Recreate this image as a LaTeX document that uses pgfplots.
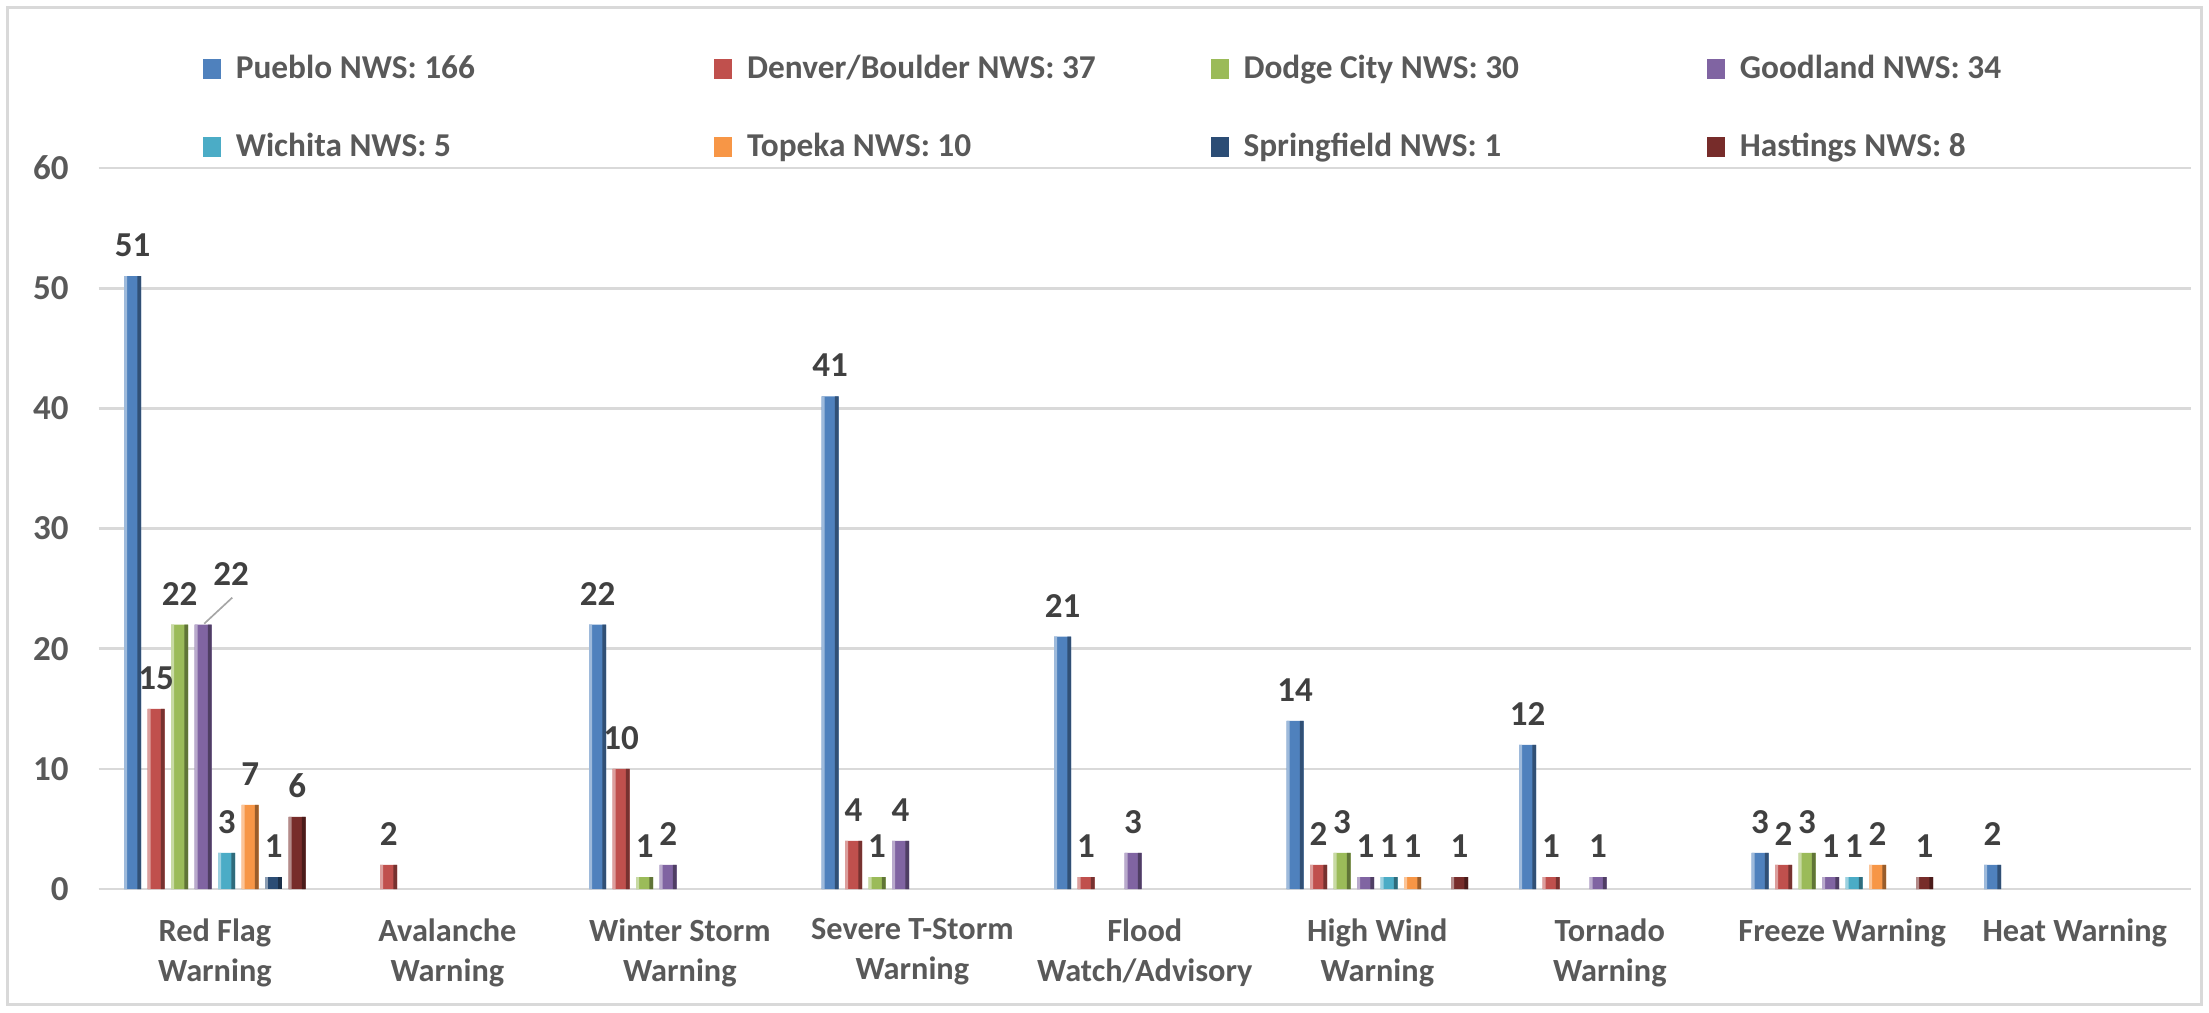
\documentclass[border=0pt]{standalone}
\usepackage{pgfplots}
\usepackage{pgfplotstable}
\pgfplotsset{compat=1.18}
\usepackage{fontspec}
\setmainfont{Carlito}

\definecolor{cPueblo}{HTML}{4F81BD}
\definecolor{cDenver}{HTML}{C0504D}
\definecolor{cDodge}{HTML}{9BBB59}
\definecolor{cGood}{HTML}{8064A2}
\definecolor{cWich}{HTML}{4BACC6}
\definecolor{cTop}{HTML}{F79646}
\definecolor{cSpring}{HTML}{2C4D75}
\definecolor{cHast}{HTML}{772C2A}
\definecolor{txt}{HTML}{595959}
\definecolor{lbl}{HTML}{404040}
\definecolor{gridc}{HTML}{D9D9D9}

% x: 0 Red Flag, 1 Avalanche, 2 Winter Storm, 3 Severe T-Storm, 4 Flood,
%    5 High Wind, 6 Tornado, 7 Freeze, 8 Heat
\pgfplotstableread{
x y
0 51
2 22
3 41
4 21
5 14
6 12
7 3
8 2
}\pueblo
\pgfplotstableread{
x y
0 15
1 2
2 10
3 4
4 1
5 2
6 1
7 2
}\denver
\pgfplotstableread{
x y
0 22
2 1
3 1
5 3
7 3
}\dodge
\pgfplotstableread{
x y  dx  dy
0 22 8.4 6
2 2  0   0
3 4  0   0
4 3  0   0
5 1  0   0
6 1  0   0
7 1  0   0
}\goodland
\pgfplotstableread{
x y
0 3
5 1
7 1
}\wichita
\pgfplotstableread{
x y
0 7
5 1
7 2
}\topeka
\pgfplotstableread{
x y
0 1
}\springfield
\pgfplotstableread{
x y
0 6
5 1
7 1
}\hastings

% bevel edges: #1 table, #2 colour, #3 right-stripe shift, #4 left-stripe shift
\newcommand{\edges}[4]{%
  \addplot[forget plot, fill=#2!62!black, draw=none, bar width=1.1pt, bar shift=#3pt] table[x=x,y=y] {#1};
  \addplot[forget plot, fill=#2!55!white, draw=none, bar width=0.9pt, bar shift=#4pt] table[x=x,y=y] {#1};
}
\newcommand{\legtext}[2][139.5pt]{\makebox[#1][l]{\hspace{2.5pt}#2}}

\begin{document}
\begin{tikzpicture}
\useasboundingbox (0,0) rectangle (662.7pt,303.6pt);
\draw[gridc, line width=0.9pt] (2.2pt,2.2pt) rectangle (660.5pt,301.4pt);
\begin{axis}[
    at={(29.6pt,36.9pt)}, anchor=south west,
    scale only axis,
    width=627.7pt, height=216.3pt,
    ybar,
    bar width=5.1pt,
    ymin=0, ymax=60,
    ytick={0,10,...,60},
    xmin=-0.5, xmax=8.5,
    xtick={0,...,8},
    xticklabels={Red Flag\\Warning, Avalanche\\Warning, Winter Storm\\Warning, Severe T-Storm\\Warning, Flood\\Watch/Advisory, High Wind\\Warning, Tornado\\Warning, Freeze Warning, Heat Warning},
    xticklabel style={align=center, font=\bfseries\fontsize{9.7}{12}\selectfont, text=txt, yshift=-5.3pt},
    yticklabel style={font=\bfseries\fontsize{10.5}{12}\selectfont, text=txt, xshift=-5.5pt},
    /pgf/number format/assume math mode=true,
    major tick length=0pt,
    ymajorgrids,
    grid style={gridc, line width=0.8pt},
    axis x line*=bottom,
    axis y line*=left,
    x axis line style={gridc, line width=0.8pt},
    y axis line style={draw=none},
    lab/.style={nodes near coords,
      every node near coord/.append style={font=\bfseries\fontsize{10.5}{12}\selectfont, text=lbl, yshift=2.3pt}},
    legend columns=4,
    legend cell align=left,
    legend style={draw=none, fill=none, at={(0.0447,1.083)}, anchor=west,
        font=\bfseries\fontsize{10}{12}\selectfont, text=txt,
        /tikz/every even column/.append style={column sep=0pt},
        row sep=10.8pt},
    legend image code/.code={\fill[#1] (0pt,-3pt) rectangle (5.4pt,3pt);},
]
\addplot[fill=cPueblo, draw=none, bar shift=-24.675pt, lab] table[x=x,y=y] {\pueblo};
\addlegendentry{\legtext[144pt]{Pueblo NWS: 166}}
\addplot[fill=cDenver, draw=none, bar shift=-17.625pt, lab] table[x=x,y=y] {\denver};
\addlegendentry{\legtext{Denver/Boulder NWS: 37}}
\addplot[fill=cDodge, draw=none, bar shift=-10.575pt, lab] table[x=x,y=y] {\dodge};
\addlegendentry{\legtext{Dodge City NWS: 30}}
\addplot[fill=cGood, draw=none, bar shift=-3.525pt, lab,
    visualization depends on={\thisrow{dx} \as \dx},
    visualization depends on={\thisrow{dy} \as \dy},
    every node near coord/.append style={xshift=\dx pt, yshift=\dy pt}]
  table[x=x,y=y] {\goodland};
\addlegendentry{\legtext{Goodland NWS: 34}}
\addplot[fill=cWich, draw=none, bar shift=3.525pt, lab] table[x=x,y=y] {\wichita};
\addlegendentry{\legtext[144pt]{Wichita NWS: 5}}
\addplot[fill=cTop, draw=none, bar shift=10.575pt, lab] table[x=x,y=y] {\topeka};
\addlegendentry{\legtext{Topeka NWS: 10}}
\addplot[fill=cSpring, draw=none, bar shift=17.625pt, lab] table[x=x,y=y] {\springfield};
\addlegendentry{\legtext{Springfield NWS: 1}}
\addplot[fill=cHast, draw=none, bar shift=24.675pt, lab] table[x=x,y=y] {\hastings};
\addlegendentry{\legtext{Hastings NWS: 8}}

\edges{\pueblo}{cPueblo}{-22.675}{-26.775}
\edges{\denver}{cDenver}{-15.625}{-19.725}
\edges{\dodge}{cDodge}{-8.575}{-12.675}
\edges{\goodland}{cGood}{-1.525}{-5.625}
\edges{\wichita}{cWich}{5.525}{1.425}
\edges{\topeka}{cTop}{12.575}{8.475}
\edges{\springfield}{cSpring}{19.625}{15.525}
\edges{\hastings}{cHast}{26.675}{22.575}

\draw[gray!70, line width=0.5pt] ([xshift=-3.2pt, yshift=0.3pt]axis cs:0,22) -- ([xshift=5.2pt, yshift=8.1pt]axis cs:0,22);
\end{axis}
\end{tikzpicture}
\end{document}
